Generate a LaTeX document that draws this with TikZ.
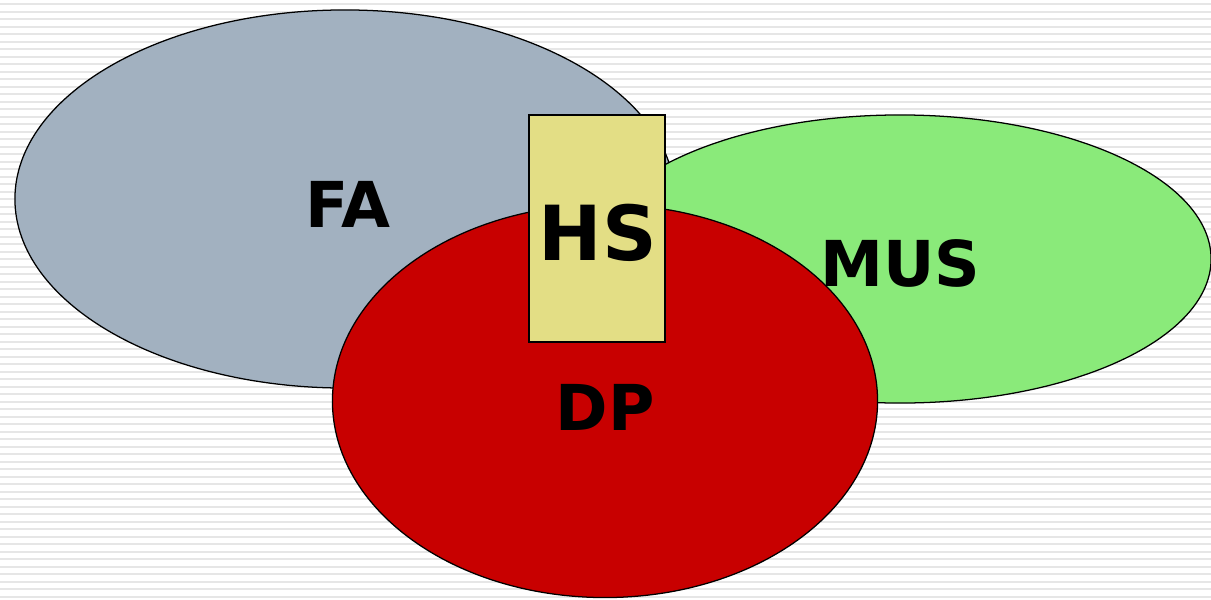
\documentclass[tikz,border=0pt]{standalone}
\usepackage{fontspec}
\setmainfont{DejaVu Sans}
\usetikzlibrary{shapes.geometric}
\begin{document}
\begin{tikzpicture}[x=0.025cm,y=-0.025cm,
  blob/.style={draw=black,line width=0.9pt,ellipse,inner sep=0pt},
  lbl/.style={font=\bfseries\fontsize{45}{50}\selectfont,inner sep=0pt}]
\definecolor{fagray}{HTML}{A2B1C0}
\definecolor{musgreen}{HTML}{8AEA7A}
\definecolor{dpred}{HTML}{C80000}
\definecolor{hsyellow}{HTML}{E3DE85}
\definecolor{stripe}{HTML}{E6E6E6}
\useasboundingbox (0,0) rectangle (1211,599);
\fill[white] (0,0) rectangle (1211,599);
\foreach \i in {0,...,79} {
  \fill[stripe] (0,{3+7.5*\i}) rectangle (1211,{5+7.5*\i});
}
\node[blob,fill=fagray,minimum width=16.5cm,minimum height=9.45cm] (fa) at (345,199) {};
\node[blob,fill=musgreen,minimum width=15.55cm,minimum height=7.2cm] (mus) at (900,259) {};
\node[blob,fill=dpred,minimum width=13.625cm,minimum height=9.825cm] (dp) at (605,401) {};
\node[draw=black,line width=0.9pt,fill=hsyellow,minimum width=3.4cm,minimum height=5.675cm,inner sep=0pt] (hs) at (597,228.5) {};
\node[lbl] (falbl) at (348,204) {FA};
\node[lbl] (muslbl) at (900,263) {MUS};
\node[lbl] (dplbl) at (605,407) {DP};
\node[lbl,font=\bfseries\fontsize{54}{60}\selectfont] (hslbl) at (598,233) {HS};
\end{tikzpicture}
\end{document}
